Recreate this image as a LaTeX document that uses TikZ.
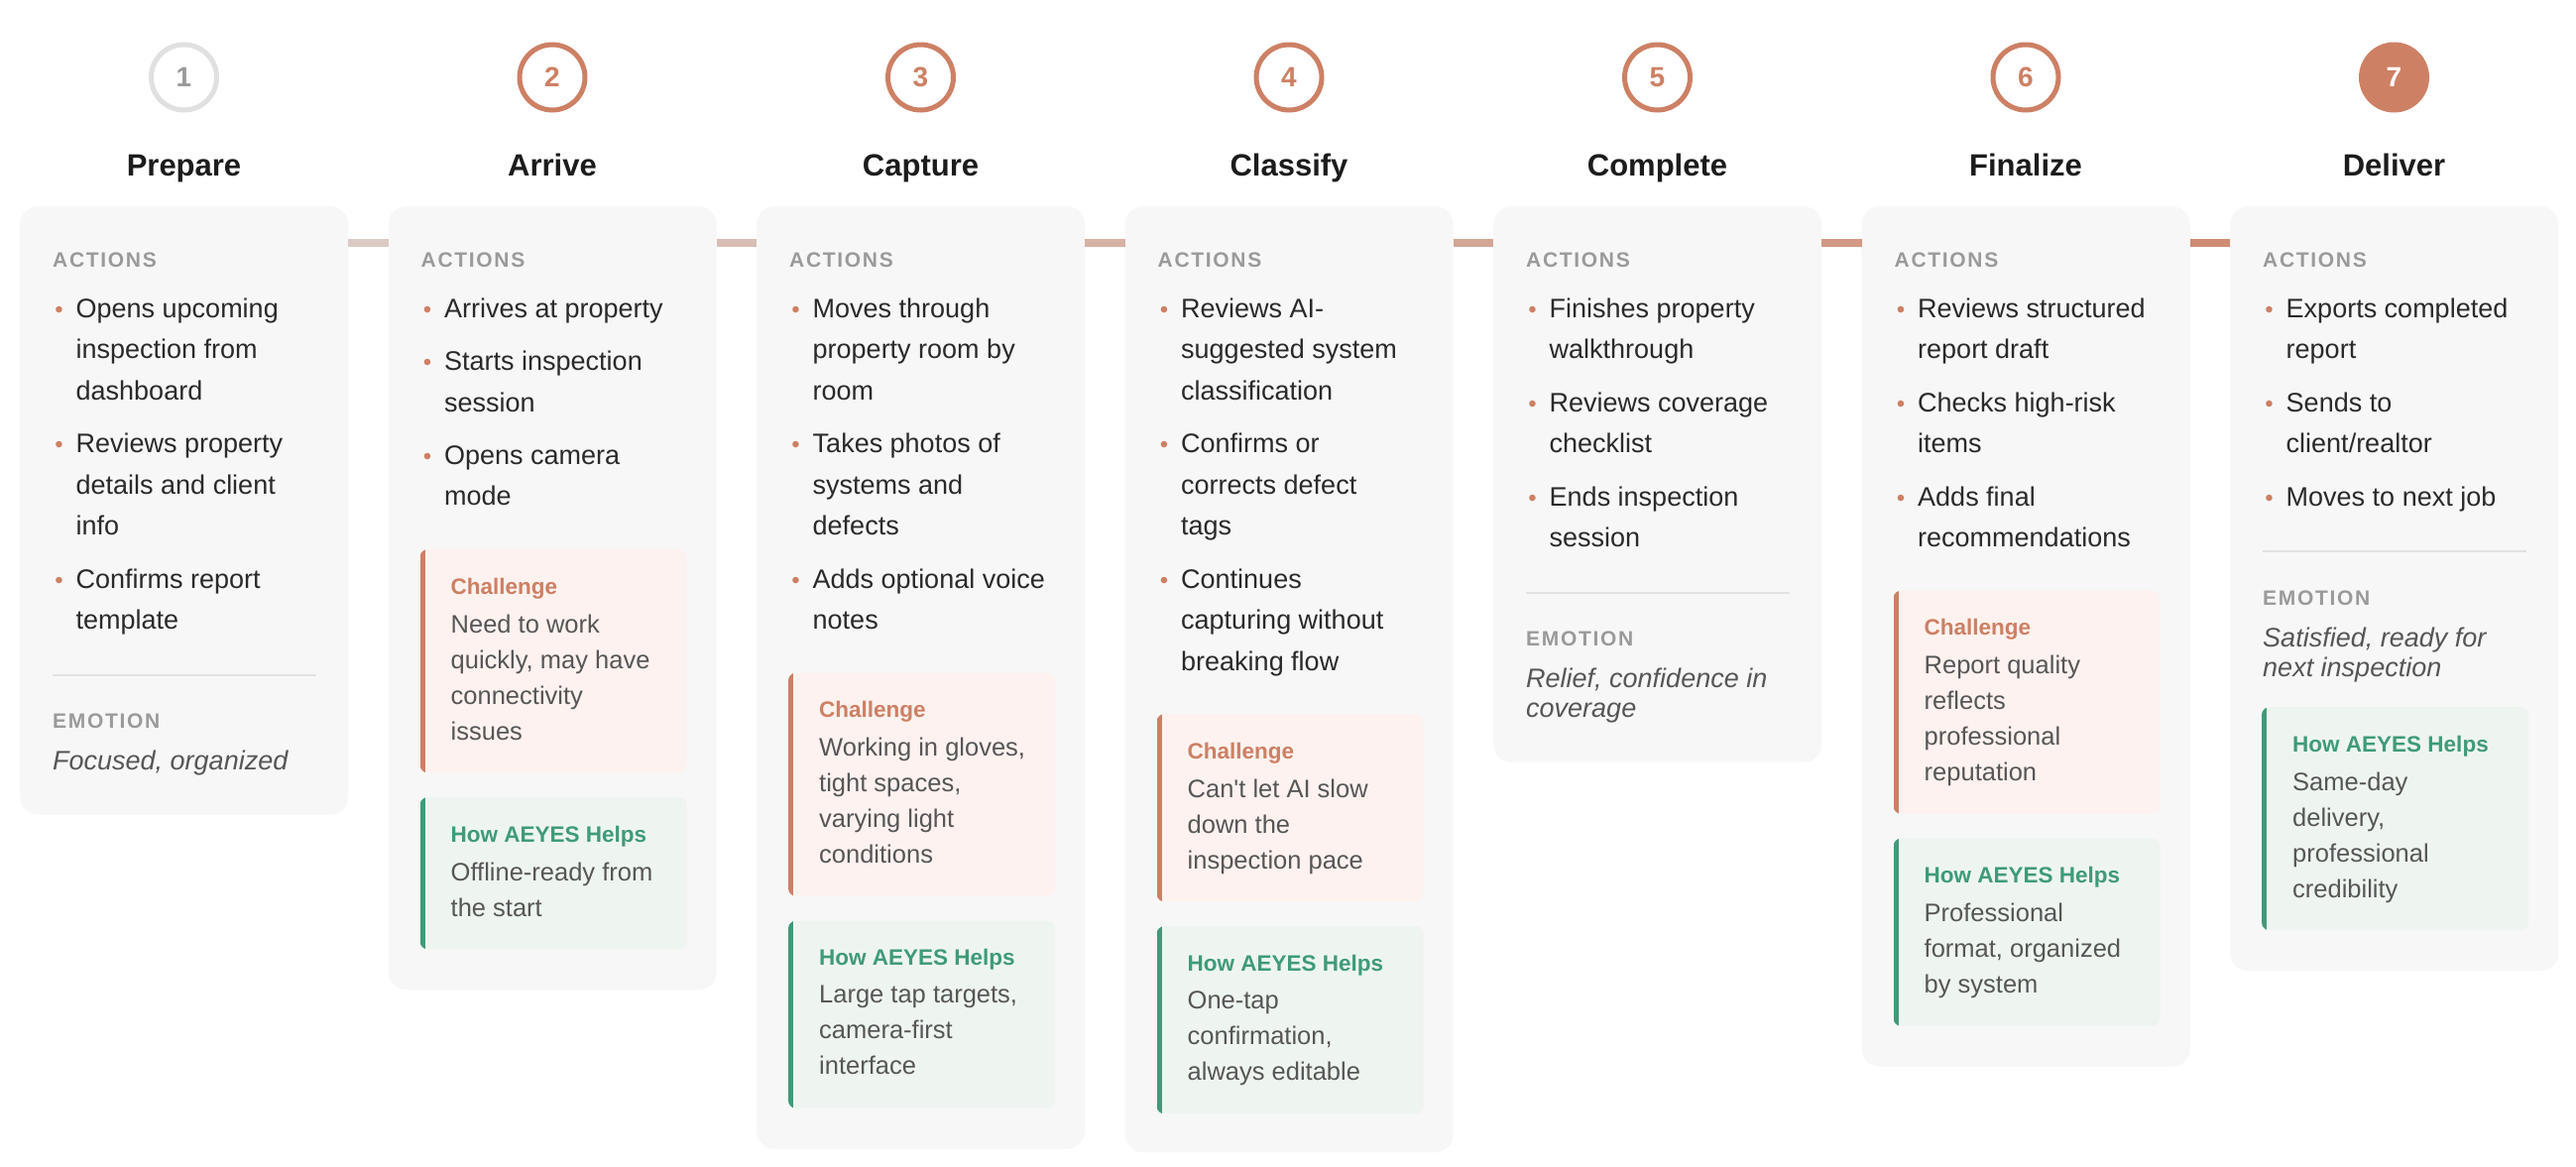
\documentclass[tikz,border=0pt]{standalone}
\usepackage{fontspec}
\setmainfont{Liberation Sans}

\definecolor{terra}{HTML}{CD8064}
\definecolor{cardbg}{HTML}{F7F7F7}
\definecolor{linegray}{HTML}{DDD2CF}
\definecolor{headgray}{HTML}{9A9A9A}
\definecolor{bodytext}{HTML}{2A2A2A}
\definecolor{softtext}{HTML}{565656}
\definecolor{titleblack}{HTML}{1C1C1C}
\definecolor{chalbg}{HTML}{FDF2EF}
\definecolor{helpbg}{HTML}{EEF5F0}
\definecolor{helpgreen}{HTML}{3F9B78}
\definecolor{ringgray}{HTML}{E0E0E0}
\definecolor{rulegray}{HTML}{E2E2E2}

\newcommand{\bul}{\llap{\textcolor{terra}{\fontsize{24}{24}\selectfont\textbullet}\hspace{13pt}}}

\tikzset{
  card/.style={fill=cardbg, rounded corners=18pt, anchor=north west, minimum width=331pt, inner sep=0pt},
  link/.style={line width=8pt},
  ring/.style={circle, draw=terra, line width=5pt, minimum size=66pt, inner sep=0pt, text=terra,
    font=\fontsize{28}{28}\selectfont\bfseries},
  stage/.style={anchor=base, inner sep=0pt, text=titleblack, font=\fontsize{31}{31}\selectfont\bfseries},
  head/.style={anchor=base west, inner sep=0pt, text=headgray,
    font=\fontsize{21}{21}\selectfont\bfseries\addfontfeatures{LetterSpace=8}},
  act/.style={anchor=north west, yshift=19.5pt, inner sep=0pt, align=left, text=bodytext,
    font=\fontsize{27}{41.5}\selectfont},
  mood/.style={anchor=north west, yshift=19.5pt, inner sep=0pt, align=left, text=softtext,
    font=\fontsize{27}{30}\selectfont\itshape},
  divider/.style={draw=rulegray, line width=2pt},
  chalbox/.style={anchor=north west, fill=chalbg, rounded corners=8pt, minimum width=269pt, inner sep=0pt},
  helpbox/.style={chalbox, fill=helpbg},
  boxhead/.style={anchor=base west, inner sep=0pt, font=\fontsize{22.5}{22.5}\selectfont\bfseries},
  boxtext/.style={anchor=north west, yshift=18.4pt, inner sep=0pt, align=left, text=softtext,
    font=\fontsize{25.5}{36}\selectfont},
}

\begin{document}
\begin{tikzpicture}[x=1pt,y=-1pt]
\path[use as bounding box, fill=white] (0,0) rectangle (2598,1176);

% Prepare
\begin{scope}
\node[card, minimum height=613.5pt] (card1) at (20,208) {};
\node[ring, draw=ringgray, text=headgray] (n1) at (185.5,78) {1};
\node[stage] (t1) at (185.5,177) {Prepare};
\node[head] (a1) at (53,269) {ACTIONS};
\node[act] (a1-1) at (76.5,320) {\bul Opens upcoming\\inspection from\\dashboard};
\node[act] (a1-2) at (76.5,456.5) {\bul Reviews property\\details and client\\info};
\node[act] (a1-3) at (76.5,593) {\bul Confirms report\\template};
\draw[divider] (53,680.5) -- (319,680.5);
\node[head] (e1) at (53,734.5) {EMOTION};
\node[mood] (m1) at (53,776.5) {Focused, organized};
\end{scope}

% Arrive
\begin{scope}[xshift=371.5pt]
\node[card, minimum height=790pt] (card2) at (20,208) {};
\node[ring] (n2) at (185.5,78) {2};
\node[stage] (t2) at (185.5,177) {Arrive};
\node[head] (a2) at (53,269) {ACTIONS};
\node[act] (a2-1) at (76.5,320) {\bul Arrives at property};
\node[act] (a2-2) at (76.5,373.5) {\bul Starts inspection\\session};
\node[act] (a2-3) at (76.5,468.5) {\bul Opens camera\\mode};
\node[chalbox, minimum height=225pt] (ch2) at (52,554) {};
\node[boxhead, text=terra] (ch2-h) at (83,599) {Challenge};
\node[boxtext] (ch2-t) at (83,638) {Need to work\\quickly, may have\\connectivity\\issues};
\node[helpbox, minimum height=153pt] (hp2) at (52,804) {};
\node[boxhead, text=helpgreen] (hp2-h) at (83,849) {How AEYES Helps};
\node[boxtext] (hp2-t) at (83,888) {Offline-ready from\\the start};
\end{scope}

% Capture
\begin{scope}[xshift=743pt]
\node[card, minimum height=950.5pt] (card3) at (20,208) {};
\node[ring] (n3) at (185.5,78) {3};
\node[stage] (t3) at (185.5,177) {Capture};
\node[head] (a3) at (53,269) {ACTIONS};
\node[act] (a3-1) at (76.5,320) {\bul Moves through\\property room by\\room};
\node[act] (a3-2) at (76.5,456.5) {\bul Takes photos of\\systems and\\defects};
\node[act] (a3-3) at (76.5,593) {\bul Adds optional voice\\notes};
\node[chalbox, minimum height=225pt] (ch3) at (52,678.5) {};
\node[boxhead, text=terra] (ch3-h) at (83,723.5) {Challenge};
\node[boxtext] (ch3-t) at (83,762.5) {Working in gloves,\\tight spaces,\\varying light\\conditions};
\node[helpbox, minimum height=189pt] (hp3) at (52,928.5) {};
\node[boxhead, text=helpgreen] (hp3-h) at (83,973.5) {How AEYES Helps};
\node[boxtext] (hp3-t) at (83,1012.5) {Large tap targets,\\camera-first\\interface};
\end{scope}

% Classify
\begin{scope}[xshift=1114.5pt]
\node[card, minimum height=954pt] (card4) at (20,208) {};
\node[ring] (n4) at (185.5,78) {4};
\node[stage] (t4) at (185.5,177) {Classify};
\node[head] (a4) at (53,269) {ACTIONS};
\node[act] (a4-1) at (76.5,320) {\bul Reviews AI-\\suggested system\\classification};
\node[act] (a4-2) at (76.5,456.5) {\bul Confirms or\\corrects defect\\tags};
\node[act] (a4-3) at (76.5,593) {\bul Continues\\capturing without\\breaking flow};
\node[chalbox, minimum height=189pt] (ch4) at (52,720) {};
\node[boxhead, text=terra] (ch4-h) at (83,765) {Challenge};
\node[boxtext] (ch4-t) at (83,804) {Can\textquotesingle t let AI slow\\down the\\inspection pace};
\node[helpbox, minimum height=189pt] (hp4) at (52,934) {};
\node[boxhead, text=helpgreen] (hp4-h) at (83,979) {How AEYES Helps};
\node[boxtext] (hp4-t) at (83,1018) {One-tap\\confirmation,\\always editable};
\end{scope}

% Complete
\begin{scope}[xshift=1486pt]
\node[card, minimum height=560.5pt] (card5) at (20,208) {};
\node[ring] (n5) at (185.5,78) {5};
\node[stage] (t5) at (185.5,177) {Complete};
\node[head] (a5) at (53,269) {ACTIONS};
\node[act] (a5-1) at (76.5,320) {\bul Finishes property\\walkthrough};
\node[act] (a5-2) at (76.5,415) {\bul Reviews coverage\\checklist};
\node[act] (a5-3) at (76.5,510) {\bul Ends inspection\\session};
\draw[divider] (53,597.5) -- (319,597.5);
\node[head] (e5) at (53,651.5) {EMOTION};
\node[mood] (m5) at (53,693.5) {Relief, confidence in\\coverage};
\end{scope}

% Finalize
\begin{scope}[xshift=1857.5pt]
\node[card, minimum height=867.5pt] (card6) at (20,208) {};
\node[ring] (n6) at (185.5,78) {6};
\node[stage] (t6) at (185.5,177) {Finalize};
\node[head] (a6) at (53,269) {ACTIONS};
\node[act] (a6-1) at (76.5,320) {\bul Reviews structured\\report draft};
\node[act] (a6-2) at (76.5,415) {\bul Checks high-risk\\items};
\node[act] (a6-3) at (76.5,510) {\bul Adds final\\recommendations};
\node[chalbox, minimum height=225pt] (ch6) at (52,595.5) {};
\node[boxhead, text=terra] (ch6-h) at (83,640.5) {Challenge};
\node[boxtext] (ch6-t) at (83,679.5) {Report quality\\reflects\\professional\\reputation};
\node[helpbox, minimum height=189pt] (hp6) at (52,845.5) {};
\node[boxhead, text=helpgreen] (hp6-h) at (83,890.5) {How AEYES Helps};
\node[boxtext] (hp6-t) at (83,929.5) {Professional\\format, organized\\by system};
\end{scope}

% Deliver
\begin{scope}[xshift=2229pt]
\node[card, minimum height=771pt] (card7) at (20,208) {};
\node[ring, fill=terra, text=white] (n7) at (185.5,78) {7};
\node[stage] (t7) at (185.5,177) {Deliver};
\node[head] (a7) at (53,269) {ACTIONS};
\node[act] (a7-1) at (76.5,320) {\bul Exports completed\\report};
\node[act] (a7-2) at (76.5,415) {\bul Sends to\\client/realtor};
\node[act] (a7-3) at (76.5,510) {\bul Moves to next job};
\draw[divider] (53,556) -- (319,556);
\node[head] (e7) at (53,610) {EMOTION};
\node[mood] (m7) at (53,652) {Satisfied, ready for\\next inspection};
\node[helpbox, minimum height=225pt] (hp7) at (52,713) {};
\node[boxhead, text=helpgreen] (hp7-h) at (83,758) {How AEYES Helps};
\node[boxtext] (hp7-t) at (83,797) {Same-day\\delivery,\\professional\\credibility};
\end{scope}

% left bars of the boxes
\foreach \b/\c in {ch2/terra,hp2/helpgreen,ch3/terra,hp3/helpgreen,ch4/terra,hp4/helpgreen,
                   ch6/terra,hp6/helpgreen,hp7/helpgreen}{
  \begin{scope}
  \clip[rounded corners=8pt] (\b.north west) rectangle (\b.south east);
  \fill[\c] (\b.north west) rectangle ([xshift=5pt]\b.south west);
  \end{scope}
}

% links between the cards
\foreach \i [evaluate=\i as \j using int(\i+1), evaluate=\i as \p using int(15*\i-5)] in {1,...,6}
  \draw[link, draw=terra!\p!linegray] ([yshift=-37pt]card\i.north east) -- ([yshift=-37pt]card\j.north west);
\end{tikzpicture}
\end{document}
